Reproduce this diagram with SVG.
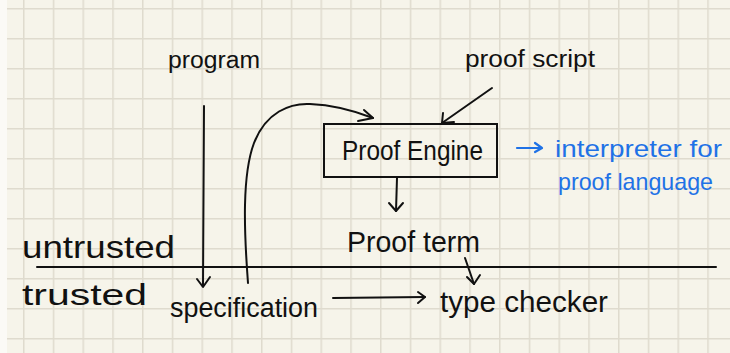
<svg xmlns="http://www.w3.org/2000/svg" width="730" height="353" viewBox="0 0 730 353">
  <defs>
    <pattern id="grid" patternUnits="userSpaceOnUse" x="23" y="8" width="29.75" height="30">
      <rect x="0" y="0" width="29.75" height="30" fill="#f6f4ea"/>
      <line x1="0" y1="0" x2="29.75" y2="0" stroke="#dfdbce" stroke-width="3"/>
      <line x1="0" y1="0" x2="0" y2="30" stroke="#dfdbce" stroke-width="3"/>
    </pattern>
  </defs>
  <style>
    .ink { fill: #111; font-family: "Liberation Sans", "DejaVu Sans", sans-serif; }
    .blue { fill: #1f72e6; font-family: "Liberation Sans", "DejaVu Sans", sans-serif; }
    .line { stroke: #111; stroke-width: 2; fill: none; stroke-linecap: round; stroke-linejoin: round; }
    .bline { stroke: #1f72e6; stroke-width: 2.2; fill: none; stroke-linecap: round; stroke-linejoin: round; }
    .box { stroke: #111; stroke-width: 2; fill: none; }
  </style>
  <rect x="0" y="0" width="730" height="353" fill="url(#grid)"/>
  <rect x="0" y="0" width="7" height="353" fill="#fbfaf6"/>

  <g id="divider">
    <line class="line" x1="37" y1="267" x2="716" y2="267"/>
  </g>

  <g id="program">
    <text class="ink" x="168" y="68" font-size="23" textLength="92" lengthAdjust="spacingAndGlyphs">program</text>
  </g>
  <g id="proof-script">
    <text class="ink" x="465" y="67" font-size="23" textLength="130" lengthAdjust="spacingAndGlyphs">proof script</text>
  </g>
  <g id="proof-engine">
    <rect class="box" x="324" y="124" width="173" height="53"/>
    <text class="ink" x="342" y="160" font-size="28" textLength="141" lengthAdjust="spacingAndGlyphs">Proof Engine</text>
  </g>
  <g id="annotation">
    <path class="bline" d="M517,148 L542,148 M535,143 L542,148 L535,152"/>
    <text class="blue" x="555" y="157" font-size="24" textLength="167" lengthAdjust="spacingAndGlyphs">interpreter for</text>
    <text class="blue" x="558" y="190" font-size="24" textLength="155" lengthAdjust="spacingAndGlyphs">proof language</text>
  </g>
  <g id="proof-term">
    <text class="ink" x="347" y="252" font-size="30" textLength="133" lengthAdjust="spacingAndGlyphs">Proof term</text>
  </g>
  <g id="untrusted">
    <text class="ink" x="22" y="258" font-size="32" textLength="153" lengthAdjust="spacingAndGlyphs">untrusted</text>
  </g>
  <g id="trusted">
    <text class="ink" x="22" y="305" font-size="30" textLength="125" lengthAdjust="spacingAndGlyphs">trusted</text>
  </g>
  <g id="specification">
    <text class="ink" x="170" y="317" font-size="27" textLength="148" lengthAdjust="spacingAndGlyphs">specification</text>
  </g>
  <g id="type-checker">
    <text class="ink" x="440" y="312" font-size="29" textLength="168" lengthAdjust="spacingAndGlyphs">type checker</text>
  </g>

  <g id="connectors">
    <!-- program -> specification -->
    <path class="line" d="M204,106 L203,286"/>
    <path class="line" d="M197,279 L203,287 L210,277"/>
    <!-- specification -> Proof Engine (curve) -->
    <path class="line" d="M248,283 C244,230 242,175 254,143 C266,112 290,103 310,104 C335,105 355,111 373,118"/>
    <path class="line" d="M364,110 L373,118 L358,121"/>
    <!-- proof script -> Proof Engine -->
    <path class="line" d="M492,88 L442,123"/>
    <path class="line" d="M443,113 L442,123 L454,122"/>
    <!-- Proof Engine -> Proof term -->
    <path class="line" d="M397,178 L396,211"/>
    <path class="line" d="M389,203 L396,211 L403,203"/>
    <!-- Proof term -> type checker -->
    <path class="line" d="M465,258 L474,284"/>
    <path class="line" d="M467,277 L474,284 L480,275"/>
    <!-- specification -> type checker -->
    <path class="line" d="M333,298 L425,297"/>
    <path class="line" d="M418,292 L425,297 L418,303"/>
  </g>
</svg>
